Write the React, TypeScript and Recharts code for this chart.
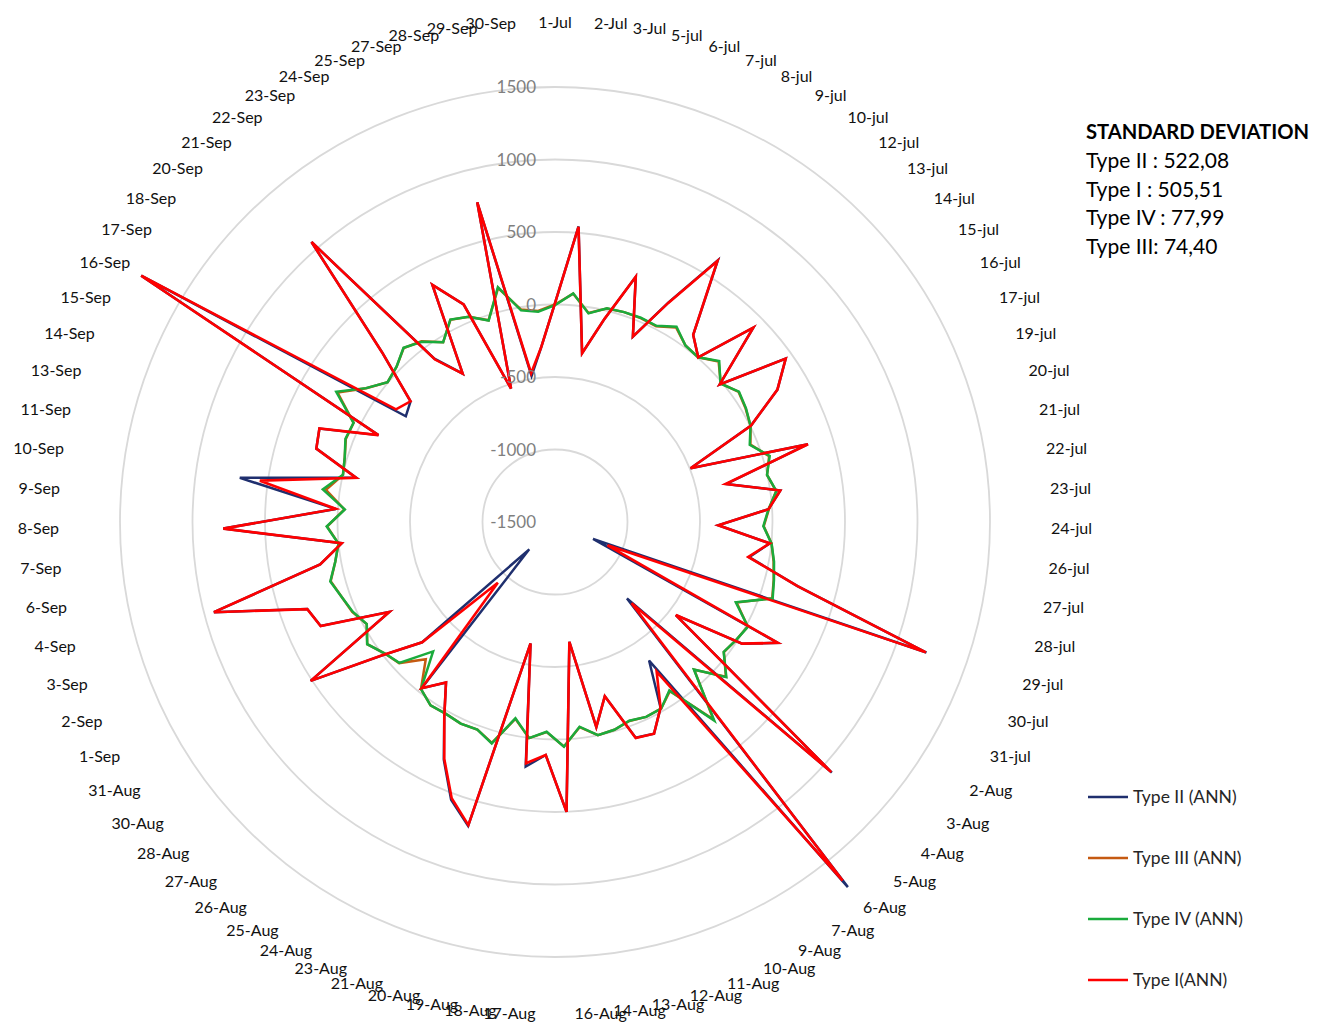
import React from 'react';
import { RadarChart, Radar, PolarGrid, PolarAngleAxis, PolarRadiusAxis, Legend } from 'recharts';

const categories = ['1-Jul','2-Jul','3-Jul','5-jul','6-jul','7-jul','8-jul','9-jul','10-jul','12-jul','13-jul','14-jul','15-jul','16-jul','17-jul','19-jul','20-jul','21-jul','22-jul','23-jul','24-jul','26-jul','27-jul','28-jul','29-jul','30-jul','31-jul','2-Aug','3-Aug','4-Aug','5-Aug','6-Aug','7-Aug','9-Aug','10-Aug','11-Aug','12-Aug','13-Aug','14-Aug','16-Aug','17-Aug','18-Aug','19-Aug','20-Aug','21-Aug','23-Aug','24-Aug','25-Aug','26-Aug','27-Aug','28-Aug','30-Aug','31-Aug','1-Sep','2-Sep','3-Sep','4-Sep','6-Sep','7-Sep','8-Sep','9-Sep','10-Sep','11-Sep','13-Sep','14-Sep','15-Sep','16-Sep','17-Sep','18-Sep','20-Sep','21-Sep','22-Sep','23-Sep','24-Sep','25-Sep','27-Sep','28-Sep','29-Sep','30-Sep'];

const typeII = [10, 545, -321, -60, 281, -113, 205, 625, 104, 5,
  415, -20, 450, 285, 7, -494, 325, -290, 69, -25,
  -374, -11, -140, 230, 1215, -1213, 248, 39, -448, 1075,
  -776, 1728, -345, -27, 112, 88, -250, -57, -668, 501,
  108, 199, -646, 680, 545, 310, 45, -162, -30, -1241,
  -264, 10, 510, -200, 268, 311, 933, 146, -22, 788,
  14, 695, -96, 222, 248, -143, 1821, -239, -202, 168,
  1059, -100, -295, 341, 127, -531, 769, -480, -293];

const typeIII = [0, 80, -40, 15, 24, 25, 20, 80, 14, 5,
  80, -10, 52, 30, 3, -50, 45, -2, 40, -22,
  -60, 1, 32, 60, 88, -130, 12, -9, -30, 90,
  -100, 245, -90, -19, -16, -35, -10, -1, -75, 50,
  -50, 1, -115, 85, 29, 35, 22, 28, -23, -200,
  -50, -16, 45, -23, 30, 59, 100, 40, 1, 72,
  -45, 95, -2, 17, 52, 48, 245, 95, 4, 30,
  90, 50, -40, 70, 35, -35, 160, -15, -40];

const typeIV = [-5, 82, -43, 17, 24, 28, 23, 86, 14, 5,
  86, -13, 55, 33, 3, -55, 49, -2, 42, -25,
  -63, 1, 35, 62, 91, -136, 14, -9, -32, 94,
  -103, 256, -96, -19, -16, -37, -10, -1, -78, 51,
  -52, 1, -119, 88, 29, 35, 22, 28, -23, -274,
  -52, -16, 45, -23, 26, 59, 103, 40, 1, 75,
  -48, 117, -2, 17, 55, 48, 256, 97, 4, 30,
  92, 45, -40, 72, 35, -37, 167, -22, -45];

const typeI = [10, 542, -321, -60, 281, -113, 201, 620, 104, 5,
  415, -20, 450, 285, 7, -494, 325, -295, 69, -25,
  -374, -11, -146, 230, 1211, -1104, 248, 39, -448, 1070,
  -730, 1670, -252, -27, 112, 90, -250, -57, -668, 501,
  108, 176, -646, 674, 534, 303, 45, -162, -30, -925,
  -264, 10, 510, -200, 268, 311, 933, 146, -22, 788,
  14, 555, -96, 222, 248, -143, 1821, -156, -202, 168,
  1059, -107, -295, 341, 127, -531, 769, -461, -293];

const radiusTicks = [-1500, -1000, -500, 0, 500, 1000, 1500];

const stdTitle = 'STANDARD DEVIATION';
const stdLines = ['Type II : 522,08', 'Type I : 505,51', 'Type IV : 77,99', 'Type III: 74,40'];

const legendOrder = ['t2', 't3', 't4', 't1'];

const data = categories.map((c, i) => ({
  date: c,
  t2: typeII[i],
  t3: typeIII[i],
  t4: typeIV[i],
  t1: typeI[i],
}));

const W = 1322;
const H = 1029;
const CX = 555;
const CY = 522;
const OUTER = 435;
const FONT = 'Lato, "Open Sans", sans-serif';

const colors: Record<string, string> = {
  t2: '#1f2f6e',
  t3: '#c55a11',
  t4: '#1aab3c',
  t1: '#ff0000',
};

function AngleTick(props: any) {
  const { payload } = props;
  const i = categories.indexOf(payload.value);
  const n = categories.length;
  const th = (i * 2 * Math.PI) / n;
  const s = Math.sin(th);
  const c = Math.cos(th);
  const R = 490 + 6 * s * s;
  const px = CX + R * s;
  const py = CY - 4 - R * c - 6 * c;
  const anchor = Math.abs(s) < 0.01 ? 'middle' : s > 0 ? 'start' : 'end';
  return (
    <text x={px} y={py} dy="0.36em" textAnchor={anchor} fontSize={16} fontFamily={FONT} fill="#111">
      {payload.value}
    </text>
  );
}

function RadiusTick(props: any) {
  const { x, y, payload } = props;
  return (
    <text x={x - 19} y={y} dy="0.36em" textAnchor="end" fontSize={17} fontFamily={FONT} fill="#7f7f7f">
      {payload.value}
    </text>
  );
}

function LegendContent(props: any) {
  const payload = [...(props.payload || [])].sort(
    (a: any, b: any) => legendOrder.indexOf(a.dataKey) - legendOrder.indexOf(b.dataKey)
  );
  return (
    <svg width={240} height={230} style={{ display: 'block' }}>
      {payload.map((p: any, k: number) => {
        const y = 17 + 61 * k;
        const col = colors[p.dataKey] || p.color;
        return (
          <g key={k}>
            <line x1={8} x2={48} y1={y} y2={y} stroke={col} strokeWidth={2.5} />
            <text x={53} y={y} dy="0.36em" fontSize={17.5} fontFamily={FONT} fill="#262626">
              {p.value}
            </text>
          </g>
        );
      })}
    </svg>
  );
}

export default function App() {
  return (
    <div style={{ position: 'absolute', left: 0, top: 0, width: W, height: H, background: '#fff', overflow: 'hidden' }}>
      <RadarChart width={W} height={H} cx={CX} cy={CY} outerRadius={OUTER} data={data} startAngle={90} endAngle={-270}
        margin={{ top: 0, right: 0, bottom: 0, left: 0 }}>
        <PolarGrid gridType="circle" radialLines={false} stroke="#d9d9d9" strokeWidth={1.8} />
        <PolarAngleAxis dataKey="date" tick={AngleTick} tickLine={false} axisLine={false} />
        <PolarRadiusAxis angle={90} orientation="left" domain={[-1500, 1500]} ticks={radiusTicks} allowDataOverflow
          axisLine={false} tick={RadiusTick} type="number" />
        <Radar name="Type II (ANN)" dataKey="t2" stroke={colors.t2} strokeWidth={2.5} fill="none" fillOpacity={0} dot={false} isAnimationActive={false} legendType="line" />
        <Radar name="Type III (ANN)" dataKey="t3" stroke={colors.t3} strokeWidth={2.5} fill="none" fillOpacity={0} dot={false} isAnimationActive={false} legendType="line" />
        <Radar name="Type IV (ANN)" dataKey="t4" stroke={colors.t4} strokeWidth={2.5} fill="none" fillOpacity={0} dot={false} isAnimationActive={false} legendType="line" />
        <Radar name="Type I(ANN)" dataKey="t1" stroke={colors.t1} strokeWidth={2.6} fill="none" fillOpacity={0} dot={false} isAnimationActive={false} legendType="line" />
        <Legend content={LegendContent} wrapperStyle={{ position: 'absolute', left: 1080, top: 780, width: 240, height: 230 }} />
      </RadarChart>
      <svg width={W} height={H} style={{ position: 'absolute', left: 0, top: 0, pointerEvents: 'none' }}>
        <text x={1086} y={139} fontSize={20.2} fontWeight="bold" fontFamily={FONT} fill="#000">{stdTitle}</text>
        {stdLines.map((t, k) => (
          <text key={k} x={1086} y={168 + k * 28.7} fontSize={21} fontFamily={FONT} fill="#000">{t}</text>
        ))}
      </svg>
    </div>
  );
}
